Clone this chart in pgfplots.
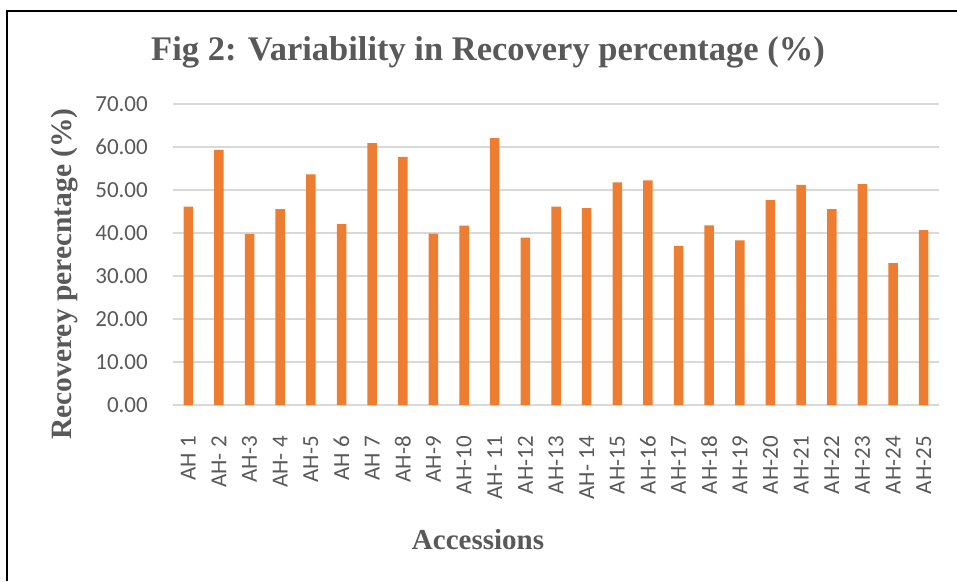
\documentclass[border=0pt]{standalone}
\usepackage{pgfplots}
\pgfplotsset{compat=1.18}
\usepackage{fontspec}
\setmainfont{Liberation Serif}
\newfontfamily\carlito{Carlito}
\definecolor{barc}{HTML}{ED7D31}
\definecolor{txt}{HTML}{595959}
\definecolor{gridc}{HTML}{D9D9D9}
\begin{document}
\begin{tikzpicture}[x=1pt,y=1pt]
\useasboundingbox (0,0) rectangle (957,581);
\draw[line width=2pt] (7,0) -- (7,570) -- (957,570);
\begin{axis}[at={(173pt,176pt)}, anchor=south west, scale only axis,
  width=766pt, height=301pt,
  xmin=-0.5, xmax=24.5, ymin=0, ymax=70,
  ytick={0,10,...,70},
  ymajorgrids, major grid style={draw=gridc, line width=1.4pt},
  axis line style={draw=none},
  major tick length=0pt,
  /pgf/number format/assume math mode=true,
  yticklabel={\pgfmathprintnumber[fixed,fixed zerofill,precision=2]{\tick}},
  yticklabel style={font=\carlito\fontsize{23}{23}\selectfont, text=txt, anchor=east, inner sep=0pt, xshift=-25pt},
  xtick={0,...,24},
  xticklabels={AH 1,AH- 2,AH-3,AH- 4,AH-5,AH 6,AH 7,AH-8,AH-9,AH-10,AH- 11,AH-12,AH-13,AH- 14,AH-15,AH-16,AH-17,AH-18,AH-19,AH-20,AH-21,AH-22,AH-23,AH-24,AH-25},
  xticklabel style={font=\carlito\fontsize{23}{23}\selectfont, text=txt, yshift=-31pt, rotate=90, anchor=east, inner sep=0pt},
  clip=false,
]
\addplot[ybar, bar width=9.5pt, fill=barc, draw=none] coordinates {
(0,46.15) (1,59.36) (2,39.78) (3,45.53) (4,53.61) (5,42.04) (6,60.92) (7,57.73) (8,39.86) (9,41.72)
(10,62.08) (11,38.93) (12,46.15) (13,45.77) (14,51.75) (15,52.21) (16,36.99) (17,41.80) (18,38.31)
(19,47.63) (20,51.20) (21,45.53) (22,51.36) (23,33.02) (24,40.64)};
\end{axis}
\node[anchor=base, text=txt, font=\bfseries\fontsize{34.5}{34.5}\selectfont, inner sep=0pt] at (488,520.3) {Fig 2: Variability in Recovery percentage (\%)};
\node[anchor=base, rotate=90, text=txt, font=\bfseries\fontsize{29.5}{29.5}\selectfont, inner sep=0pt] at (71.7,307) {Recoverey perecntage (\%)};
\node[anchor=base, text=txt, font=\bfseries\fontsize{29}{29}\selectfont, inner sep=0pt] at (478,32) {Accessions};
\end{tikzpicture}
\end{document}
